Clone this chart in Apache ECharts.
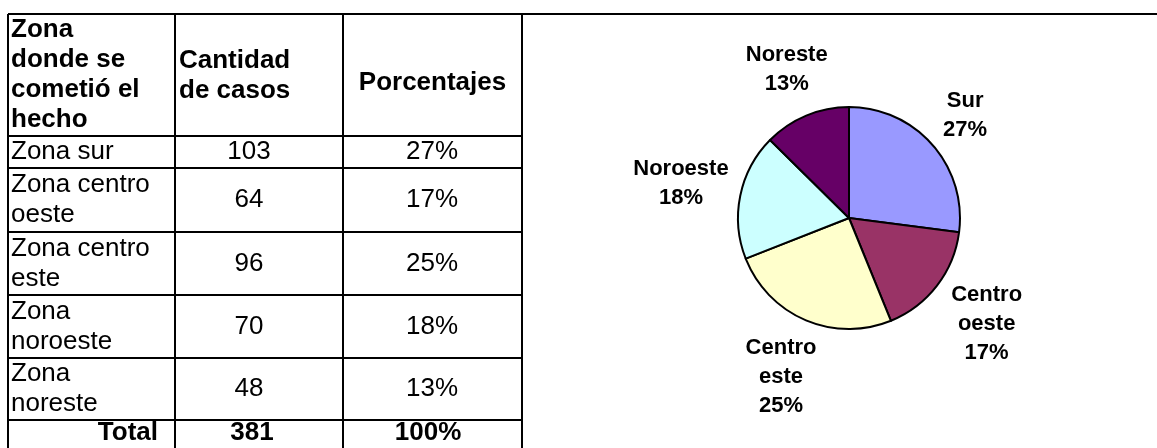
<!DOCTYPE html>
<html>
<head>
<meta charset="utf-8">
<script src="https://cdn.jsdelivr.net/npm/echarts@6/dist/echarts.min.js"></script>
<style>
html,body{margin:0;padding:0;background:#fff;}
#c{width:1157px;height:448px;}
</style>
</head>
<body>
<div id="c"></div>
<script>
// ---- data ----
const headers = ['Zona\ndonde se\ncometió el\nhecho', 'Cantidad\nde casos', 'Porcentajes'];
const zones = ['Zona sur', 'Zona centro\noeste', 'Zona centro\neste', 'Zona\nnoroeste', 'Zona\nnoreste'];
const cases = [103, 64, 96, 70, 48];
const pctText = ['27%', '17%', '25%', '18%', '13%'];
const totalLabel = 'Total';
const totalCases = 381;
const totalPct = '100%';
const pieNames = ['Sur', 'Centro\noeste', 'Centro\neste', 'Noroeste', 'Noreste'];
const pieColors = ['#9999FF', '#993366', '#FFFFCC', '#CCFFFF', '#660066'];

// ---- layout ----
const FONT = '"Liberation Sans", Arial, sans-serif';
const colX = [8, 175, 343, 522];
const rowY = [14, 136, 168, 232, 295, 358, 420, 452];
const tableBottom = 460;
const pieC = [849, 218];
const pieR = 111;
const labelGap = 8;

const g = [];
function line(x1, y1, x2, y2) {
  g.push({type: 'line', shape: {x1, y1, x2, y2}, style: {stroke: '#000', lineWidth: 2}, silent: true});
}
function txt(text, x, y, align, bold, extra) {
  g.push({type: 'text', silent: true, style: Object.assign({
    text, x, y, align, verticalAlign: 'middle', fill: '#000',
    fontFamily: FONT, fontSize: 26, fontWeight: bold ? 'bold' : 'normal', lineHeight: 30
  }, extra || {})});
}
// top rule across the page
line(colX[0], rowY[0], 1157, rowY[0]);
// vertical lines
colX.forEach(x => line(x, rowY[0], x, tableBottom));
// horizontal lines
for (let i = 1; i < rowY.length - 1; i++) line(colX[0], rowY[i], colX[3], rowY[i]);

// header
const hMid = (rowY[0] + rowY[1]) / 2;
txt(headers[0], colX[0] + 3, hMid, 'left', true);
txt(headers[1], colX[1] + 4, hMid + 1, 'left', true);
txt(headers[2], (colX[2] + colX[3]) / 2, hMid + 8, 'center', true);
// body rows
zones.forEach((z, i) => {
  const mid = (rowY[i + 1] + rowY[i + 2]) / 2;
  txt(z, colX[0] + 3, mid, 'left', false);
  txt(String(cases[i]), 249, mid, 'center', false);
  txt(pctText[i], 432, mid, 'center', false);
});
// total row
const tMid = 433;
txt(totalLabel, 158, tMid, 'right', true);
txt(String(totalCases), 252, tMid, 'center', true);
txt(totalPct, 428, tMid, 'center', true);

const sum = cases.reduce((a, b) => a + b, 0);
function midAngle(i) {
  let acc = 0;
  for (let k = 0; k < i; k++) acc += cases[k];
  return ((acc + cases[i] / 2) / sum) * Math.PI * 2;
}

const chart = echarts.init(document.getElementById('c'), null, {renderer: 'canvas'});
chart.setOption({
  animation: false,
  backgroundColor: '#fff',
  graphic: g,
  series: [{
    type: 'pie',
    center: pieC,
    radius: pieR,
    startAngle: 90,
    clockwise: true,
    percentPrecision: 0,
    avoidLabelOverlap: false,
    data: pieNames.map((n, i) => ({name: n, value: cases[i], itemStyle: {color: pieColors[i]}})),
    itemStyle: {borderColor: '#000', borderWidth: 2},
    label: {
      show: true, position: 'outside', color: '#000',
      fontFamily: FONT, fontSize: 22, fontWeight: 'bold', lineHeight: 29, align: 'center',
      formatter: p => p.name + '\n' + Math.round(p.percent) + '%'
    },
    labelLine: {show: false},
    emphasis: {disabled: true},
    labelLayout: function (p) {
      const th = midAngle(p.dataIndex);
      const ux = Math.sin(th), uy = -Math.cos(th);
      const w = p.labelRect.width, h = p.labelRect.height;
      const ext = Math.abs(ux) * w / 2 + Math.abs(uy) * h / 2;
      const d = pieR + labelGap + ext;
      return {x: pieC[0] + d * ux, y: pieC[1] + d * uy, align: 'center', verticalAlign: 'middle'};
    }
  }]
});
</script>
</body>
</html>
